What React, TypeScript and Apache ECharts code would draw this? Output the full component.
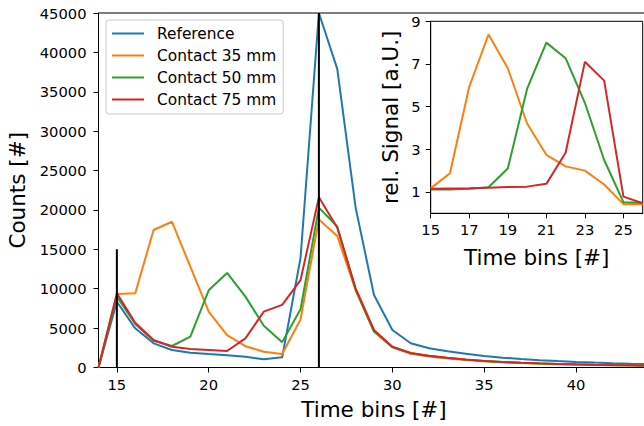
import React, { useEffect, useRef } from "react";
import * as echarts from "echarts";

const mainBins = [14, 15, 16, 17, 18, 19, 20, 21, 22, 23, 24, 25, 26, 27, 28, 29, 30, 31, 32, 33, 34, 35, 36, 37, 38, 39, 40, 41, 42, 43, 44];
const reference = [0, 8350, 4970, 3070, 2220, 1880, 1710, 1550, 1370, 1040, 1290, 13900, 45000, 37900, 20300, 9200, 4760, 3070, 2450, 2050, 1750, 1450, 1250, 1080, 930, 810, 700, 620, 550, 490, 440];
const contact35 = [0, 9330, 9410, 17450, 18500, 12800, 7100, 4100, 2700, 2000, 1720, 6100, 18800, 16700, 9800, 4540, 2560, 1750, 1400, 1150, 950, 780, 660, 570, 490, 420, 370, 320, 280, 250, 220];
const contact50 = [0, 8990, 5520, 3400, 2730, 3930, 9800, 12000, 9000, 5300, 3220, 7400, 20300, 17900, 9900, 4600, 2600, 1800, 1450, 1200, 1000, 820, 700, 600, 520, 450, 390, 340, 300, 270, 240];
const contact75 = [0, 9410, 5690, 3490, 2640, 2350, 2220, 2090, 3700, 7100, 7950, 11100, 21600, 17750, 10050, 4760, 2640, 1850, 1500, 1230, 1020, 840, 710, 610, 530, 460, 400, 350, 310, 280, 250];

const insetBins = [15, 16, 17, 18, 19, 20, 21, 22, 23, 24, 25, 26];
const rel35 = [1.17, 1.88, 5.93, 8.38, 6.8, 4.21, 2.74, 2.2, 2.0, 1.35, 0.43, 0.43];
const rel50 = [1.12, 1.12, 1.15, 1.22, 2.1, 5.83, 8.0, 7.27, 5.18, 2.5, 0.52, 0.5];
const rel75 = [1.15, 1.16, 1.17, 1.2, 1.23, 1.25, 1.38, 2.84, 7.1, 6.22, 0.78, 0.47];

const markerLines = [
  { x: 15, top: 15000 },
  { x: 26, top: 45000 },
];

const names = ["Reference", "Contact 35 mm", "Contact 50 mm", "Contact 75 mm"];
const colors = ["#1f77b4", "#ff7f0e", "#2ca02c", "#d62728"];
const mainXTicks = [15, 20, 25, 30, 35, 40];
const insetXTicks = [15, 17, 19, 21, 23, 25];
const insetYTicks = [1, 3, 5, 7, 9];

const FONT = "DejaVu Sans";

export default function App() {
  const ref = useRef<HTMLDivElement>(null);
  useEffect(() => {
    if (!ref.current) return;
    const chart = echarts.init(ref.current, null, { renderer: "svg" });
    const pair = (xs: number[], ys: number[]) => xs.map((x, i) => [x, ys[i]]);
    const lineStyleBase = { width: 2 };
    const mainSeries = [reference, contact35, contact50, contact75].map((d, i) => ({
      name: names[i],
      type: "line",
      xAxisIndex: 0,
      yAxisIndex: 0,
      data: pair(mainBins, d),
      symbol: "none",
      lineStyle: { ...lineStyleBase, color: colors[i] },
      itemStyle: { color: colors[i] },
      z: 2 + i * 0.01,
    }));
    const insetSeries = [rel35, rel50, rel75].map((d, i) => ({
      name: names[i + 1],
      type: "line",
      xAxisIndex: 1,
      yAxisIndex: 1,
      data: pair(insetBins, d),
      symbol: "none",
      lineStyle: { ...lineStyleBase, color: colors[i + 1] },
      itemStyle: { color: colors[i + 1] },
      z: 10,
    }));
    const vSeries = markerLines.map((m) => ({
      type: "line",
      xAxisIndex: 0,
      yAxisIndex: 0,
      data: [
        [m.x, 0],
        [m.x, m.top],
      ],
      symbol: "none",
      silent: true,
      lineStyle: { width: 2, color: "#000" },
      z: 3,
    }));
    const axisCommon = {
      axisLine: { show: true, lineStyle: { color: "#000", width: 1 } },
      axisTick: { show: true, length: 5, lineStyle: { color: "#000", width: 1 } },
      splitLine: { show: false },
      nameLocation: "middle",
      nameTextStyle: { fontFamily: FONT, fontSize: 21.5, color: "#000" },
    };
    const plain = (v: number) => String(v);
    chart.setOption({
      animation: false,
      textStyle: { fontFamily: FONT },
      grid: [
        {
          left: 98.5,
          right: 10.5,
          top: 13,
          bottom: 58.5,
          show: true,
          borderColor: "#000",
          borderWidth: 1,
          backgroundColor: "#fff",
          containLabel: false,
          outerBoundsMode: "none",
        },
        {
          left: 430.7,
          right: 17.3,
          top: 21.3,
          bottom: 212.7,
          show: true,
          borderColor: "#000",
          borderWidth: 1,
          backgroundColor: "#fff",
          containLabel: false,
          outerBoundsMode: "none",
          z: 5,
        },
      ],
      legend: {
        data: names,
        orient: "vertical",
        left: 106,
        top: 20,
        padding: [6, 7, 7, 6],
        itemGap: 7,
        itemWidth: 32,
        itemHeight: 2,
        icon: "rect",
        backgroundColor: "rgba(255,255,255,0.8)",
        borderColor: "#cccccc",
        borderWidth: 1,
        borderRadius: 3,
        textStyle: { fontFamily: FONT, fontSize: 15.4, color: "#000", padding: [0, 0, 0, 8] },
        selectedMode: false,
      },
      xAxis: [
        {
          ...axisCommon,
          gridIndex: 0,
          type: "value",
          min: 14,
          max: 44,
          name: "Time bins [#]",
          nameGap: 31,
          axisTick: { ...axisCommon.axisTick, customValues: mainXTicks },
          axisLabel: { customValues: mainXTicks, formatter: plain, fontFamily: FONT, fontSize: 14.7, color: "#000", margin: 9 },
        },
        {
          ...axisCommon,
          gridIndex: 1,
          type: "value",
          min: 15,
          max: 26,
          name: "Time bins [#]",
          nameGap: 33,
          axisTick: { ...axisCommon.axisTick, customValues: insetXTicks },
          axisLabel: { customValues: insetXTicks, formatter: plain, fontFamily: FONT, fontSize: 14.7, color: "#000", margin: 9 },
          z: 10,
        },
      ],
      yAxis: [
        {
          ...axisCommon,
          gridIndex: 0,
          type: "value",
          min: 0,
          max: 45000,
          interval: 5000,
          name: "Counts [#]",
          nameGap: 65,
          axisLabel: { formatter: plain, fontFamily: FONT, fontSize: 14.7, color: "#000", margin: 12 },
        },
        {
          ...axisCommon,
          gridIndex: 1,
          type: "value",
          min: 0,
          max: 9,
          name: "rel. Signal [a.U.]",
          nameGap: 29,
          axisTick: { ...axisCommon.axisTick, customValues: insetYTicks },
          axisLabel: { customValues: insetYTicks, formatter: plain, fontFamily: FONT, fontSize: 14.7, color: "#000", margin: 10 },
          z: 10,
        },
      ],
      series: [...mainSeries, ...vSeries, ...insetSeries],
    });
    return () => chart.dispose();
  }, []);
  return (
    <div style={{ position: "fixed", left: 0, top: 0, width: 644, height: 426, overflow: "hidden", background: "#fff" }}>
      <div ref={ref} style={{ width: 660, height: 426 }} />
    </div>
  );
}
